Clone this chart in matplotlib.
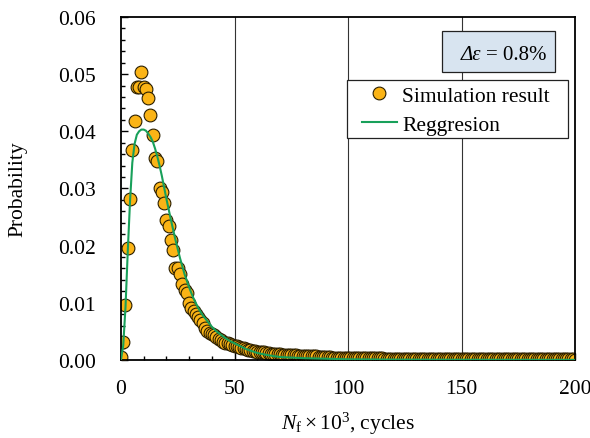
import matplotlib.pyplot as plt
import numpy as np
from matplotlib.patches import Rectangle

plt.rcParams['font.family'] = ['Liberation Serif', 'DejaVu Serif']
plt.rcParams['mathtext.fontset'] = 'custom'
plt.rcParams['mathtext.rm'] = 'Liberation Serif'
plt.rcParams['mathtext.it'] = 'Liberation Serif:italic'

# simulation histogram: bin centres (x10^3 cycles) and probability per bin
sim_n = np.arange(0, 201)
sim_p = [
    0.0005, 0.0032, 0.0096, 0.0195, 0.0281, 0.0367, 0.0418, 0.0478, 0.0478, 0.0504,
    0.0478, 0.0474, 0.0459, 0.0428, 0.0393, 0.0353, 0.0348, 0.0301, 0.0294, 0.0275,
    0.0244, 0.0234, 0.0210, 0.0193, 0.0161, 0.0160, 0.0150, 0.0132, 0.0123, 0.0117,
    0.0100, 0.0091, 0.0085, 0.0080, 0.0075, 0.0070, 0.0064, 0.0055, 0.0051, 0.0047,
    0.0045, 0.0043, 0.0040, 0.0036, 0.0034, 0.0032, 0.0030, 0.0029, 0.0027, 0.0026,
    0.0025, 0.0024, 0.0023, 0.0021, 0.0020, 0.0019, 0.0018, 0.0017, 0.0016, 0.0015,
    0.0014, 0.0014, 0.0013, 0.0013, 0.0012, 0.0012, 0.0011, 0.0011, 0.0010, 0.0010,
    0.0010, 0.0009, 0.0009, 0.0009, 0.0008, 0.0008, 0.0008, 0.0008, 0.0007, 0.0007,
    0.0007, 0.0007, 0.0006, 0.0006, 0.0006, 0.0006, 0.0006, 0.0005, 0.0005, 0.0005,
    0.0005, 0.0005, 0.0005, 0.0004, 0.0004, 0.0004, 0.0004, 0.0004, 0.0004, 0.0004,
    0.0004, 0.0003, 0.0003, 0.0003, 0.0003, 0.0003, 0.0003, 0.0003, 0.0003, 0.0003,
    0.0003, 0.0003, 0.0003, 0.0003, 0.0003, 0.0003, 0.0002, 0.0002, 0.0002, 0.0002,
    0.0002, 0.0002, 0.0002, 0.0002, 0.0002, 0.0002, 0.0002, 0.0002, 0.0002, 0.0002,
    0.0002, 0.0002, 0.0002, 0.0002, 0.0002, 0.0002, 0.0001, 0.0001, 0.0001, 0.0001,
    0.0001, 0.0001, 0.0001, 0.0001, 0.0001, 0.0001, 0.0001, 0.0001, 0.0001, 0.0001,
    0.0001, 0.0001, 0.0001, 0.0001, 0.0001, 0.0001, 0.0001, 0.0001, 0.0001, 0.0001,
    0.0001, 0.0001, 0.0001, 0.0001, 0.0001, 0.0001, 0.0001, 0.0001, 0.0001, 0.0001,
    0.0001, 0.0001, 0.0001, 0.0001, 0.0001, 0.0001, 0.0001, 0.0001, 0.0001, 0.0001,
    0.0001, 0.0001, 0.0001, 0.0001, 0.0001, 0.0001, 0.0001, 0.0001, 0.0001, 0.0001,
    0.0001, 0.0001, 0.0001, 0.0001, 0.0001, 0.0001, 0.0001, 0.0001, 0.0001, 0.0001,
    0.0000,
]

# regression curve
reg_n = [0, 1, 2, 3, 4, 5, 6, 7, 8, 9, 10, 11, 12, 13, 14, 15, 16, 17, 18, 19, 20,
         22, 24, 26, 28, 30, 32, 34, 36, 38, 40, 42, 44, 46, 48, 50,
         55, 60, 65, 70, 80, 90, 100, 120, 150, 200]
reg_p = [0.0, 0.0025, 0.0092, 0.0190, 0.0278, 0.0345, 0.0378, 0.0394, 0.0400, 0.0403,
         0.0403, 0.0401, 0.0396, 0.0390, 0.0382, 0.0370, 0.0356, 0.0340, 0.0322, 0.0302,
         0.0282, 0.0245, 0.0210, 0.0178, 0.0150, 0.0127, 0.0107, 0.0091, 0.0078, 0.0068,
         0.0058, 0.0050, 0.0044, 0.0038, 0.0033, 0.0029,
         0.0019, 0.0012, 0.0008, 0.0005, 0.0003, 0.0002, 0.0001, 0.00005, 0.00002, 0.0]

fig = plt.figure(figsize=(5.9, 4.39), dpi=100)
ax = fig.add_axes([0.205, 0.178, 0.770, 0.781])

for xv in [50, 100, 150]:
    ax.axvline(xv, color='#333333', lw=0.8, zorder=0)

ax.plot(sim_n, sim_p, ls='none', marker='o', ms=9.2, mfc='#FBB416', mec='#2a1e00',
        mew=0.8, label='Simulation result', zorder=2)
ax.plot(reg_n, reg_p, color='#18A05A', lw=1.5, label='Reggresion', zorder=3)

ax.set_xlim(0, 200)
ax.set_ylim(0, 0.06)
ax.set_xticks([0, 50, 100, 150, 200])
ax.set_xticks(np.arange(0, 201, 10), minor=True)
ax.set_yticks(np.arange(0, 0.061, 0.01))
ax.set_yticks(np.arange(0, 0.061, 0.002), minor=True)
ax.yaxis.set_major_formatter(plt.FormatStrFormatter('%.2f'))
ax.tick_params(which='both', direction='in', labelsize=15.5, top=False, right=False)
ax.tick_params(which='major', length=5, width=1)
ax.tick_params(which='minor', length=3, width=1)
ax.tick_params(axis='y', which='major', pad=18)
ax.tick_params(axis='x', which='major', pad=13.5)
for s in ax.spines.values():
    s.set_linewidth(1.3)

ax.set_xlabel(r'$\mathit{N}_{\rm f}\times 10^3$, cycles', fontsize=15.5, labelpad=9)
ax.set_ylabel('Probability', fontsize=15.5, labelpad=22)

# strain amplitude box
ax.add_patch(Rectangle((0.707, 0.840), 0.249, 0.1195, transform=ax.transAxes,
                       fc='#D8E4F0', ec='#222222', lw=0.9, zorder=6))
ax.text(0.794, 0.892, 'Δε', transform=ax.transAxes, fontsize=15,
        fontstyle='italic', ha='right', va='center', zorder=7)
ax.text(0.804, 0.892, '= 0.8%', transform=ax.transAxes, fontsize=15,
        ha='left', va='center', zorder=7)

# legend frame drawn as a patch so the padding matches the reference box
ax.add_patch(Rectangle((0.498, 0.647), 0.487, 0.169, transform=ax.transAxes,
                       fc='white', ec='#222222', lw=0.9, zorder=4))
leg = ax.legend(loc='upper left', bbox_to_anchor=(0.531, 0.800), borderaxespad=0,
                fontsize=15.5, frameon=False, borderpad=0,
                handlelength=1.6, handletextpad=0.25, labelspacing=0.42)
leg.set_zorder(5)

fig.savefig('out.png', dpi=100)
